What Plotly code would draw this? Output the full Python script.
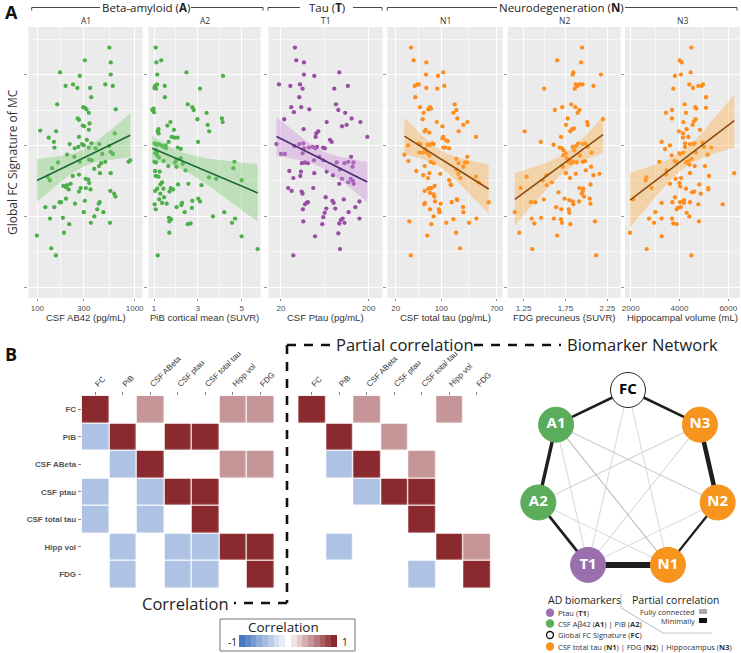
import numpy as np
import plotly.graph_objects as go

W, H = 741, 653

# ---------------- Panel A data: (biomarker value, global FC signature of MC) ----------------
a1_csf_ab42 = [(550,1.38),(308,1.20),(568,1.17),(171,1.03),(568,1.00),(273,0.98),(195,0.84),(233,0.86),(258,0.81),(349,0.81),
    (500,0.86),(596,0.84),(358,0.68),(160,0.58),(296,0.54),(308,0.53),(320,0.51),(338,0.46),(640,0.51),(260,0.38),
    (268,0.36),(293,0.28),(303,0.27),(344,0.31),(338,0.22),(107,0.21),(156,0.20),(625,0.17),(131,0.11),(148,0.05),
    (268,0.12),(215,0.02),(242,-0.04),(264,-0.02),(300,0.00),(288,0.02),(323,0.08),(338,-0.03),(361,0.03),(397,-0.04),
    (433,0.02),(150,-0.03),(202,-0.13),(240,-0.16),(273,-0.23),(341,-0.20),(361,-0.21),(465,-0.12),(568,-0.09),(596,-0.12),
    (546,-0.01),(163,-0.24),(142,-0.32),(127,-0.44),(134,-0.49),(231,-0.43),(268,-0.41),(313,-0.47),(333,-0.48),(341,-0.53),
    (385,-0.33),(430,-0.29),(440,-0.39),(454,-0.25),(500,-0.23),(568,-0.39),(185,-0.57),(202,-0.56),(220,-0.54),(197,-0.59),
    (210,-0.62),(279,-0.60),(268,-0.65),(315,-0.60),(352,-0.62),(563,-0.64),(615,-0.68),(635,-0.72),(197,-0.75),(169,-0.80),
    (175,-0.80),(244,-0.82),(308,-0.78),(427,-0.82),(437,-0.80),(121,-0.87),(149,-0.87),(413,-0.90),(477,-0.94),(300,-0.94),
    (385,-1.00),(135,-1.03),(183,-1.02),(355,-1.09),(213,-1.11),(558,-1.09),(188,-1.23),(99,-1.27),(139,-1.45),(155,-1.55),
    (867,-0.23),(902,-0.21)]

a2_pib = [(1.08,1.38),(1.11,1.17),(1.33,1.20),(1.15,1.00),(2.48,1.03),(4.15,0.98),(1.14,0.86),(1.05,0.84),(1.09,0.80),(1.02,0.81),
    (1.49,0.84),(3.10,0.80),(1.50,0.68),(0.98,0.52),(0.92,0.50),(1.00,0.47),(2.54,0.58),(2.75,0.54),(2.81,0.50),(3.40,0.46),
    (2.98,0.37),(4.10,0.38),(4.13,0.33),(3.45,0.29),(3.52,0.20),(1.20,0.23),(1.17,0.20),(1.21,0.17),(1.61,0.28),(1.75,0.33),
    (1.81,0.12),(1.94,0.11),(1.91,0.22),(2.08,0.11),(1.67,0.05),(1.03,0.03),(1.12,0.01),(1.20,0.02),(1.33,0.00),(1.44,-0.02),
    (1.53,0.00),(1.09,-0.07),(1.12,-0.10),(1.05,-0.11),(1.15,-0.14),(1.23,-0.17),(1.55,-0.04),(2.08,-0.03),(2.22,-0.05),(2.22,-0.18),
    (3.01,0.05),(1.02,-0.23),(1.09,-0.24),(1.44,-0.22),(1.96,-0.24),(2.03,-0.20),(2.31,-0.26),(2.44,-0.35),(2.03,-0.30),(1.65,-0.29),
    (1.05,-0.36),(1.08,-0.43),(1.26,-0.37),(1.20,-0.44),(1.37,-0.52),(1.29,-0.55),(1.15,-0.61),(1.05,-0.64),(1.29,-0.68),(1.43,-0.61),
    (1.76,-0.60),(1.87,-0.62),(1.71,-0.65),(2.10,-0.55),(2.57,-0.54),(3.17,-0.56),(3.51,-0.45),(3.84,-0.47),(4.62,-0.32),(4.67,-0.23),
    (5.00,-0.49),(1.03,-0.83),(1.08,-0.90),(1.24,-0.76),(1.46,-0.73),(1.37,-0.81),(1.58,-0.82),(2.03,-0.87),(2.28,-0.81),(2.25,-0.84),
    (2.75,-0.78),(2.73,-0.88),(2.40,-0.94),(3.02,-0.75),(3.10,-0.79),(1.70,-1.07),(1.78,-1.04),(1.68,-1.02),(2.54,-1.11),(2.67,-1.10),
    (1.70,-1.23),(1.17,-1.55),(3.69,-1.00),(4.21,-0.94),(4.56,-1.09),(4.70,-1.03),(5.00,-1.28),(5.73,-1.46)]

t1_csf_ptau = [(28.9,1.38),(29.9,1.20),(36.6,1.17),(36.6,1.00),(48.0,0.98),(92.5,1.03),(19.0,0.86),(25.6,0.84),(33.0,0.86),(35.3,0.80),
    (81.1,0.80),(116,0.84),(32.4,0.68),(26.2,0.54),(28.1,0.47),(34.1,0.54),(42.1,0.51),(84.8,0.58),(90.2,0.50),(108,0.46),
    (128,0.38),(161,0.33),(112,0.29),(99.3,0.27),(66.4,0.33),(21.8,0.37),(36.3,0.23),(53.3,0.20),(50.6,0.17),(49.7,0.12),
    (17.8,0.02),(20.0,-0.12),(22.2,-0.12),(28.4,-0.01),(32.4,0.02),(36.0,0.03),(36.6,-0.04),(35.3,-0.11),(41.7,-0.03),(45.9,-0.02),
    (49.3,-0.04),(51.5,-0.02),(60.3,-0.03),(63.5,-0.04),(54.7,-0.16),(37.6,-0.24),(40.6,-0.25),(47.6,-0.21),(60.8,-0.21),(72.4,0.08),
    (75.7,0.05),(86.3,-0.24),(106,-0.25),(117,-0.23),(126,-0.16),(134,-0.24),(131,-0.30),(24.9,-0.36),(27.7,-0.46),(34.7,-0.25),
    (33.8,-0.37),(33.3,-0.43),(48.0,-0.39),(66.4,-0.37),(78.4,-0.42),(94.2,-0.34),(99.3,-0.47),(117,-0.52),(125,-0.47),(135,-0.54),
    (132,-0.50),(24.2,-0.60),(26.5,-0.64),(34.4,-0.65),(35.3,-0.68),(46.7,-0.60),(37.6,-0.83),(39.3,-0.81),(40.6,-0.80),(35.6,-0.90),
    (64.7,-0.73),(77.1,-0.78),(79.8,-0.81),(104,-0.76),(92.5,-0.54),(83.3,-0.89),(65.8,-0.89),(157,-0.79),(141,-0.87),(118,-0.94),
    (63.0,-0.95),(60.8,-1.01),(96.6,-1.05),(101,-1.03),(92.5,-1.10),(106,-1.09),(157,-1.03),(36.0,-1.07),(59.2,-1.11),(48.9,-1.28),
    (90.2,-1.24),(94.2,-1.46),(27.7,-1.55),(193,0.12)]

n1_csf_total_tau = [(34.3,1.38),(37.7,1.20),(58.9,1.17),(58.2,1.00),(107,1.03),(88.9,0.98),(39.1,0.84),(43.0,0.86),(45.0,0.86),(58.9,0.81),
    (86.9,0.80),(111,0.84),(40.0,0.68),(47.1,0.54),(67.1,0.54),(69.5,0.52),(51.8,0.37),(53.6,0.46),(63.2,0.51),(160,0.58),
    (170,0.50),(153,0.46),(176,0.38),(250,0.33),(217,0.29),(84.9,0.33),(104,0.27),(184,0.20),(57.6,0.22),(55.6,0.20),
    (65.5,0.18),(104,0.10),(107,0.12),(119,0.07),(125,0.06),(340,0.12),(27.2,-0.13),(30.9,0.00),(31.3,-0.22),(41.4,-0.36),
    (45.0,0.03),(46.1,-0.10),(47.7,0.02),(51.8,-0.10),(56.2,-0.05),(61.8,0.01),(59.6,-0.10),(65.5,-0.14),(67.1,0.01),(72.8,0.03),
    (76.3,0.02),(68.7,-0.23),(76.3,-0.25),(55.6,-0.29),(96.5,-0.40),(107,-0.03),(115,-0.03),(132,-0.04),(170,-0.19),(184,-0.25),
    (230,-0.24),(250,-0.16),(247,-0.24),(217,-0.30),(170,-0.34),(182,-0.40),(195,-0.46),(340,-0.44),(373,-0.52),(53.0,-0.42),
    (65.5,-0.39),(62.5,-0.46),(132,-0.49),(139,-0.55),(141,-0.56),(55.6,-0.64),(63.2,-0.61),(67.1,-0.60),(71.1,-0.60),(67.1,-0.67),
    (76.3,-0.69),(78.2,-0.72),(56.2,-0.81),(54.9,-0.83),(80.0,-0.79),(67.1,-0.90),(79.0,-0.57),(94.3,-0.94),(92.1,-0.90),(97.6,-0.82),
    (144,-0.80),(172,-0.76),(176,-0.77),(215,-0.87),(217,-0.94),(76.3,-1.00),(70.3,-1.11),(93.2,-0.94),(119,-1.09),(153,-1.04),
    (265,-1.09),(344,-1.03),(32.4,-1.07),(61.0,-1.27),(168,-1.23),(193,-1.45),(34.0,-1.55),(530,-0.80)]

n2_fdg = [(1.949,1.38),(1.651,1.20),(1.937,1.17),(1.844,1.03),(1.837,1.00),(2.174,1.00),(1.873,0.86),(1.892,0.84),(1.921,0.86),(1.952,0.86),
    (1.495,0.80),(2.085,0.84),(1.861,0.80),(1.262,0.20),(1.623,0.50),(1.712,0.54),(1.820,0.58),(1.868,0.54),(1.897,0.46),(1.916,0.50),
    (1.776,0.38),(1.756,0.29),(1.808,0.20),(1.828,0.23),(1.852,0.24),(2.009,0.33),(2.017,0.29),(2.198,0.37),(1.696,0.12),(1.455,0.05),
    (1.608,0.01),(1.680,-0.03),(1.708,-0.04),(1.728,-0.07),(1.724,-0.14),(1.756,-0.11),(1.837,-0.02),(1.856,-0.07),(1.876,-0.01),(1.904,0.03),
    (1.957,0.02),(1.985,0.03),(2.017,-0.02),(1.921,-0.14),(1.768,-0.18),(1.784,-0.23),(1.816,-0.25),(1.828,-0.22),(1.840,-0.23),(1.885,-0.24),
    (1.957,-0.23),(1.985,-0.22),(2.061,-0.10),(2.057,-0.30),(1.993,-0.35),(1.756,-0.39),(1.873,-0.40),(1.804,-0.46),(1.523,-0.42),(1.479,-0.49),
    (1.527,-0.56),(1.587,-0.52),(1.720,-0.30),(1.286,-0.44),(1.214,-0.60),(1.668,-0.66),(1.916,-0.60),(1.961,-0.61),(1.957,-0.65),(1.945,-0.68),
    (2.049,-0.55),(2.085,-0.42),(2.157,-0.40),(1.338,-0.80),(1.391,-0.80),(1.491,-0.76),(1.740,-0.75),(1.796,-0.77),(1.844,-0.83),(1.837,-0.79),
    (1.913,-0.79),(1.973,-0.72),(2.049,-0.82),(2.040,-0.75),(1.639,-0.87),(1.700,-0.90),(1.789,-0.90),(1.796,-0.95),(1.611,-1.03),(1.696,-1.04),
    (1.708,-1.09),(1.808,-1.11),(1.346,-1.03),(1.378,-1.10),(1.459,-1.02),(1.145,-0.94),(1.198,-1.23),(1.354,-1.46),(1.651,-1.27),(2.102,-1.07),
    (2.117,-1.55)]

n3_hippocampus = [(4484,1.38),(4007,1.20),(4088,1.17),(4061,1.00),(4457,1.03),(3815,0.98),(4402,0.86),(4553,0.81),(4771,0.84),(4907,0.84),
    (4962,0.86),(3747,0.80),(5085,0.68),(4211,0.58),(4648,0.54),(4689,0.52),(4266,0.46),(3693,0.50),(3447,0.46),(3693,0.38),
    (4157,0.33),(4539,0.29),(4662,0.37),(4594,0.34),(4839,0.22),(5085,0.53),(3979,0.20),(4143,0.17),(4293,0.23),(4143,0.11),
    (4361,0.12),(3269,0.05),(3406,-0.05),(3611,0.00),(3679,-0.14),(3802,-0.22),(3870,-0.23),(3993,-0.11),(4020,-0.12),(4157,-0.10),
    (4225,-0.02),(4225,0.03),(4430,0.02),(4566,0.02),(4621,0.03),(4675,-0.10),(4498,-0.19),(4361,-0.22),(4266,-0.24),(4402,-0.27),
    (4621,-0.29),(4948,0.04),(5003,-0.02),(5153,-0.13),(5303,-0.03),(3174,-0.23),(3474,-0.35),(3447,-0.41),(3843,-0.47),(4061,-0.46),
    (4430,-0.39),(5044,-0.29),(2642,-0.45),(2614,-0.49),(2860,-0.60),(2109,-0.76),(3611,-0.54),(3993,-0.53),(4034,-0.58),(4266,-0.61),
    (4512,-0.66),(4607,-0.65),(4812,-0.55),(5180,-0.60),(5180,-0.62),(5208,-0.43),(3269,-0.81),(3706,-0.80),(3815,-0.73),(4020,-0.80),
    (4184,-0.77),(4184,-0.81),(4430,-0.80),(4771,-0.83),(4867,-0.68),(5767,-0.83),(3884,-0.90),(3938,-0.88),(4048,-0.87),(4293,-0.95),
    (4402,-1.00),(4798,-1.07),(3010,-0.94),(2751,-1.03),(2956,-1.09),(3269,-1.03),(3693,-1.03),(3747,-1.10),(3884,-1.11),(1973,-1.23),
    (3269,-1.28),(2655,-1.46),(4484,-1.55),(6245,-0.39)]

panel_names = ["A1", "A2", "T1", "N1", "N2", "N3"]
panel_titles = ["CSF AB42 (pg/mL)", "PiB cortical mean (SUVR)", "CSF Ptau (pg/mL)",
                "CSF total tau (pg/mL)", "FDG precuneus (SUVR)", "Hippocampal volume (mL)"]
panel_ticks = [[100, 300, 1000], [1, 3, 5], [20, 200], [20, 100, 700], [1.25, 1.75, 2.25], [2000, 4000, 6000]]
y_ticks = [-2, -1, 0, 1]

# ---------------- Panel B data ----------------
biomarkers = ["FC", "PiB", "CSF ABeta", "CSF ptau", "CSF total tau", "Hipp vol", "FDG"]
D, R, B, N = 1.0, 0.5, -0.45, None
corr_matrix = [
    [D, N, R, N, N, R, R],
    [B, D, N, D, D, N, N],
    [N, B, D, N, N, R, R],
    [B, N, B, D, D, N, N],
    [B, N, B, N, D, N, N],
    [N, B, N, B, B, D, D],
    [N, B, N, B, B, N, D],
]
pcorr_matrix = [
    [D, N, R, N, N, R, N],
    [N, D, N, R, N, N, N],
    [N, B, D, N, R, N, N],
    [N, N, B, D, D, N, N],
    [N, N, N, N, D, N, N],
    [N, B, N, N, N, D, R],
    [N, N, N, N, B, N, D],
]
legend_steps = [-1, -0.875, -0.75, -0.625, -0.5, -0.375, -0.25, -0.125, 0,
                0.125, 0.25, 0.375, 0.5, 0.625, 0.75, 0.875, 1]

network_nodes = ["FC", "N3", "N2", "N1", "T1", "A2", "A1"]
network_edges = [("FC", "A1", 0.55), ("FC", "N3", 0.55), ("A1", "A2", 0.65), ("A2", "T1", 0.55),
                 ("T1", "N1", 1.0), ("N1", "N2", 0.5), ("N2", "N3", 0.8),
                 ("FC", "T1", 0.07), ("FC", "N1", 0.07), ("A1", "N2", 0.12), ("A1", "N1", 0.18),
                 ("A1", "T1", 0.07), ("A2", "N3", 0.10), ("A2", "N1", 0.06), ("T1", "N3", 0.06),
                 ("T1", "N2", 0.06)]

# ---------------- styling ----------------
def fx(p): return p / W
def fy(p): return 1 - p / H

FONT = "Open Sans"
TFONT = "Liberation Sans"
GREEN, PURPLE, ORANGE = "#4DAF4A", "#984EA3", "#FF8C1A"
panel_style = [
    (GREEN, "rgba(120,205,110,0.38)", "#1B6A36"),
    (GREEN, "rgba(120,205,110,0.38)", "#1B6A36"),
    (PURPLE, "rgba(205,140,220,0.38)", "#4B2A72"),
    (ORANGE, "rgba(255,170,60,0.38)", "#8B4A12"),
    (ORANGE, "rgba(255,170,60,0.38)", "#8B4A12"),
    (ORANGE, "rgba(255,170,60,0.38)", "#8B4A12"),
]
panel_log = [True, False, True, True, False, False]
panel_dom = [(28.3, 142.7), (148.3, 260.7), (268.3, 382.7), (387.3, 502.7), (507.7, 620.7), (625, 740)]
panel_range = [[1.907, 3.083], [0.74, 5.87], [1.157, 2.461], [1.173, 2.939], [1.06, 2.41], [1766, 6480]]
panel_data = [a1_csf_ab42, a2_pib, t1_csf_ptau, n1_csf_total_tau, n2_fdg, n3_hippocampus]


def fit_band(x, y, log):
    t = np.log10(x) if log else np.asarray(x, float)
    y = np.asarray(y, float)
    n = len(t)
    b, a = np.polyfit(t, y, 1)
    tt = np.linspace(t.min(), t.max(), 80)
    yhat = a + b * tt
    s = np.sqrt(np.sum((y - (a + b * t)) ** 2) / (n - 2))
    sxx = np.sum((t - t.mean()) ** 2)
    se = s * np.sqrt(1.0 / n + (tt - t.mean()) ** 2 / sxx)
    xx = 10 ** tt if log else tt
    return xx, yhat, yhat - 1.98 * se, yhat + 1.98 * se


fig = go.Figure()
shapes, annotations = [], []
layout = {}

def pline(x0, y0, x1, y1, **line):
    shapes.append(dict(type="line", xref="paper", yref="paper", x0=fx(x0), x1=fx(x1), y0=fy(y0), y1=fy(y1),
                       line=line))

def ptext(text, x, y, size, color="#222", family=FONT, xanchor="center", yanchor="middle", **kw):
    annotations.append(dict(text=text, x=fx(x), y=fy(y), xref="paper", yref="paper", showarrow=False,
                            xanchor=xanchor, yanchor=yanchor,
                            font=dict(family=family, size=size, color=color), **kw))

for i in range(6):
    k = i + 1
    xa, ya = ("x" if k == 1 else f"x{k}"), ("y" if k == 1 else f"y{k}")
    pts = panel_data[i]
    xs = [p[0] for p in pts]
    ys = [p[1] for p in pts]
    pcol, bcol, lcol = panel_style[i]
    fig.add_trace(go.Scatter(x=xs, y=ys, mode="markers", xaxis=xa, yaxis=ya,
                             marker=dict(size=4.3, color=pcol, line=dict(width=0)), showlegend=False))
    xx, yh, lo, hi = fit_band(xs, ys, panel_log[i])
    fig.add_trace(go.Scatter(x=list(xx) + list(xx[::-1]), y=list(hi) + list(lo[::-1]), mode="lines",
                             fill="toself", fillcolor=bcol, line=dict(width=0), xaxis=xa, yaxis=ya,
                             showlegend=False, hoverinfo="skip"))
    fig.add_trace(go.Scatter(x=xx, y=yh, mode="lines", line=dict(color=lcol, width=1.6),
                             xaxis=xa, yaxis=ya, showlegend=False))
    ticks = panel_ticks[i]
    if panel_log[i]:
        minor = [float(np.sqrt(ticks[j] * ticks[j + 1])) for j in range(len(ticks) - 1)]
    else:
        minor = [(ticks[j] + ticks[j + 1]) / 2 for j in range(len(ticks) - 1)]
    xkey = "xaxis" if k == 1 else f"xaxis{k}"
    ykey = "yaxis" if k == 1 else f"yaxis{k}"
    layout[xkey] = dict(domain=[fx(panel_dom[i][0]), fx(panel_dom[i][1])], anchor=ya,
                        type="log" if panel_log[i] else "linear", range=panel_range[i],
                        tickmode="array", tickvals=ticks, ticktext=[f"{v:g}" for v in ticks],
                        showgrid=True, gridcolor="white", gridwidth=1.1, zeroline=False,
                        ticks="outside", ticklen=2, tickcolor="#888", automargin=False,
                        tickfont=dict(family=TFONT, size=8, color="#4D4D4D"),
                        minor=dict(tickvals=minor, showgrid=True, gridcolor="#F7F7F7", gridwidth=0.6, ticks=""),
                        showline=False, fixedrange=True)
    layout[ykey] = dict(domain=[fy(298), fy(27)], anchor=xa, range=[-2.15, 1.67],
                        tickmode="array", tickvals=y_ticks, showticklabels=False, automargin=False,
                        showgrid=True, gridcolor="white", gridwidth=1.1, zeroline=False,
                        ticks="outside", ticklen=3, tickcolor="#999",
                        minor=dict(tickvals=[-1.5, -0.5, 0.5, 1.5], showgrid=True, gridcolor="#F7F7F7",
                                   gridwidth=0.6, ticks=""),
                        showline=False, fixedrange=True)
    shapes.append(dict(type="rect", xref=f"{xa} domain", yref=f"{ya} domain", x0=0, x1=1, y0=0, y1=1,
                       fillcolor="#EBEBEB", line=dict(width=0), layer="below"))
    cx = (panel_dom[i][0] + panel_dom[i][1]) / 2
    ptext(panel_names[i], cx, 20, 8.5, color="#333")
    ptext(panel_titles[i], cx, 317.5, 9.5, color="#333", family=TFONT)

# headers: (text, centre, line segments)
headers = [("Beta-amyloid (<b>A</b>)", 145.5, [(31.7, 100), (191, 263)]),
           ("Tau (<b>T</b>)", 326.5, [(268, 300), (353, 382)]),
           ("Neurodegeneration (<b>N</b>)", 561, [(387.3, 497), (625, 737)])]
for text, cx, segs in headers:
    for a, b in segs:
        pline(a, 7.5, b, 7.5, color="#333", width=0.9)
    pline(segs[0][0], 7.5, segs[0][0], 10.5, color="#333", width=0.9)
    pline(segs[1][1], 7.5, segs[1][1], 10.5, color="#333", width=0.9)
    ptext(text, cx, 7, 11.5)

ptext("<b>A</b>", 3, 12, 18, color="#111", xanchor="left")
ptext("<b>B</b>", 3, 354, 18, color="#111", xanchor="left")
ptext("Global FC Signature of MC", 12, 162, 12, color="#333", textangle=-90)

# ---------------- heatmaps ----------------
cscale = [[0, "#4A78C2"], [0.5, "#FFFFFF"], [1, "#8B2A2E"]]
for k, mat, x0, showy in [(7, corr_matrix, 81.7, True), (8, pcorr_matrix, 298.2, False)]:
    fig.add_trace(go.Heatmap(z=mat, x=biomarkers, y=biomarkers, xaxis=f"x{k}", yaxis=f"y{k}",
                             colorscale=cscale, zmin=-1, zmax=1, showscale=False, xgap=1.2, ygap=1.2,
                             hoverongaps=False))
    layout[f"xaxis{k}"] = dict(domain=[fx(x0), fx(x0 + 192.5)], anchor=f"y{k}", side="top", tickangle=-45,
                               showgrid=False, zeroline=False, showline=False, ticks="outside", ticklen=3,
                               tickcolor="#888", tickfont=dict(family=TFONT, size=8, color="#333"),
                               automargin=False, fixedrange=True)
    layout[f"yaxis{k}"] = dict(domain=[fy(588.2), fy(395.7)], anchor=f"x{k}", autorange="reversed",
                               showgrid=False, zeroline=False, showline=False, showticklabels=showy,
                               ticks="outside" if showy else "", ticklen=3, tickcolor="#888",
                               tickfont=dict(family=TFONT, size=8, color="#555", weight="bold"),
                               automargin=False, fixedrange=True)

# correlation legend
fig.add_trace(go.Heatmap(z=[legend_steps], xaxis="x10", yaxis="y10", colorscale=cscale, zmin=-1, zmax=1,
                         showscale=False))
layout["xaxis10"] = dict(domain=[fx(239), fx(337)], anchor="y10", visible=False, fixedrange=True)
layout["yaxis10"] = dict(domain=[fy(647), fy(635)], anchor="x10", visible=False, fixedrange=True)
shapes.append(dict(type="rect", xref="paper", yref="paper", x0=fx(220), x1=fx(355), y0=fy(651), y1=fy(619),
                   line=dict(color="#777", width=1)))
ptext("Correlation", 283, 627, 13.5)
ptext("-1", 232, 641.5, 10)
ptext("1", 345, 641.5, 10)

# dashed separators
dash = dict(color="#111", width=2.6, dash="9px,8px")
pline(287, 345, 337, 345, **dash)
pline(474, 345, 561, 345, **dash)
pline(287, 345, 287, 603, **dash)
pline(287, 603, 234, 603, **dash)
ptext("Partial correlation", 405, 344, 16.5)
ptext("Biomarker Network", 565, 344, 16.5, xanchor="left")
ptext("Correlation", 231, 603, 16.5, xanchor="right")

# ---------------- network ----------------
radius = 92
ang = {n: np.deg2rad(90 - j * 360 / 7) for j, n in enumerate(network_nodes)}
pos = {n: (radius * np.cos(a), radius * np.sin(a)) for n, a in ang.items()}
for a, b, w in sorted(network_edges, key=lambda e: e[2]):
    if w >= 0.4:
        col = "#1E1E1E"
        width = 1.6 + 4.4 * (w - 0.4) / 0.6
    else:
        g = int(238 - 270 * w)
        col = f"rgb({g},{g},{g})"
        width = 1.1
    fig.add_trace(go.Scatter(x=[pos[a][0], pos[b][0]], y=[pos[a][1], pos[b][1]], mode="lines",
                             line=dict(color=col, width=width), xaxis="x9", yaxis="y9",
                             showlegend=False, hoverinfo="skip"))
node_fill = {"FC": "white", "A1": "#5BAD5B", "A2": "#5BAD5B", "T1": "#9B6FAE",
             "N1": "#F7941D", "N2": "#F7941D", "N3": "#F7941D"}
fig.add_trace(go.Scatter(
    x=[pos[n][0] for n in network_nodes], y=[pos[n][1] for n in network_nodes],
    mode="markers+text", text=[f"<b>{n}</b>" for n in network_nodes], textposition="middle center",
    textfont=dict(family=FONT, size=15, color=["black" if n == "FC" else "white" for n in network_nodes]),
    marker=dict(size=35, color=[node_fill[n] for n in network_nodes],
                line=dict(color=["#222" if n == "FC" else node_fill[n] for n in network_nodes], width=1)),
    xaxis="x9", yaxis="y9", showlegend=False))
layout["xaxis9"] = dict(domain=[fx(490), 1], anchor="y9", range=[490 - 628, 741 - 628], visible=False,
                        fixedrange=True)
layout["yaxis9"] = dict(domain=[fy(590), fy(350)], anchor="x9", range=[482 - 590, 482 - 350], visible=False,
                        fixedrange=True)

# network legend
leg_items = [("#9B6FAE", "#9B6FAE", "Ptau (<b>T1</b>)", 612.7),
             ("#5BAD5B", "#5BAD5B", "CSF Aβ42 (<b>A1</b>) | PiB (<b>A2</b>)", 623.5),
             ("white", "#111", "Global FC Signature (<b>FC</b>)", 635),
             ("#F7941D", "#F7941D", "CSF total tau (<b>N1</b>) | FDG (<b>N2</b>) | Hippocampus (<b>N3</b>)", 646.5)]
for fill, lc, txt, yy in leg_items:
    shapes.append(dict(type="circle", xref="paper", yref="paper", x0=fx(546.5), x1=fx(553.5),
                       y0=fy(yy + 3.5), y1=fy(yy - 3.5), fillcolor=fill, line=dict(color=lc, width=1.3)))
    ptext(txt, 556, yy, 7.5, color="#333", xanchor="left")
ptext("AD biomarkers", 546, 600, 10.5, xanchor="left")
ptext("Partial correlation", 630, 600, 10.5, xanchor="left")
ptext("Fully connected", 697, 611.5, 7.5, color="#333", xanchor="right")
ptext("Minimally", 697, 620.5, 7.5, color="#333", xanchor="right")
shapes += [
    dict(type="rect", xref="paper", yref="paper", x0=fx(699), x1=fx(707), y0=fy(614), y1=fy(609),
         fillcolor="#AAAAAA", line=dict(width=0)),
    dict(type="rect", xref="paper", yref="paper", x0=fx(699), x1=fx(707), y0=fy(623), y1=fy(618),
         fillcolor="#111111", line=dict(width=0)),
    dict(type="path", xref="paper", yref="paper",
         path=f"M {fx(621)},{fy(594)} L {fx(621)},{fy(608)} L {fx(663)},{fy(633)} L {fx(712)},{fy(633)}",
         line=dict(color="#C8C8C8", width=1.2)),
]

fig.update_layout(width=W, height=H, margin=dict(l=0, r=0, t=0, b=0, autoexpand=False),
                  paper_bgcolor="white", plot_bgcolor="rgba(0,0,0,0)", showlegend=False,
                  shapes=shapes, annotations=annotations, font=dict(family=FONT), **layout)
fig.write_html("out.html", config={"displayModeBar": False},
               post_script="document.body.style.margin='0';document.body.style.overflow='hidden';")
